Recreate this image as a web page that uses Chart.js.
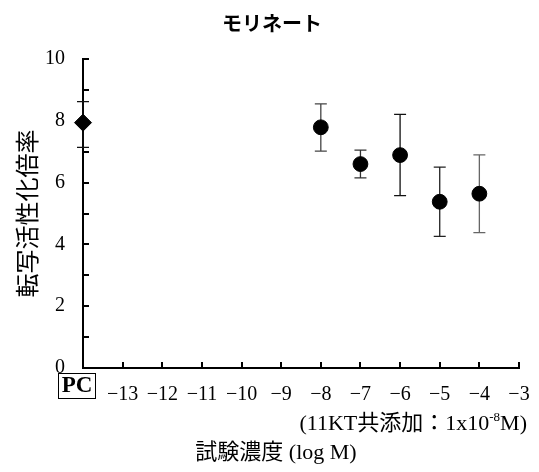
<!DOCTYPE html>
<html lang="ja">
<head>
<meta charset="utf-8">
<title>モリネート</title>
<script src="https://cdn.jsdelivr.net/npm/chart.js@4.4.1/dist/chart.umd.min.js"></script>
<style>
  html, body { margin: 0; padding: 0; background: #fff; }
  #wrap { position: relative; width: 539px; height: 472px; }
</style>
</head>
<body>
<div id="wrap"><canvas id="chart"></canvas></div>
<script>
// positive control, drawn on the left edge of the axis
const pcX = [-14];
const pcMean = [7.94];
const pcLow = [7.14];
const pcHigh = [8.62];

// molinate, log M
const doseLog = [-8, -7, -6, -5, -4];
const foldMean = [7.79, 6.60, 6.89, 5.38, 5.64];
const foldLow = [7.02, 6.15, 5.58, 4.26, 4.38];
const foldHigh = [8.55, 7.05, 8.21, 6.50, 6.90];

const xMin = -14, xMax = -3;
const yMin = 0, yMax = 10;

const serif = "'Liberation Serif', 'Noto Sans CJK JP', serif";
const gothic = "'Noto Sans CJK JP', sans-serif";

// vertical error bars with caps
const errorBars = {
  id: 'errorBars',
  beforeDatasetsDraw(chart) {
    const { ctx, scales: { x, y } } = chart;
    ctx.save();
    ctx.lineWidth = 1.3;
    chart.data.datasets.forEach(ds => {
      ds.data.forEach((p, i) => {
        const px = x.getPixelForValue(p.x);
        const yl = y.getPixelForValue(ds.errLow[i]);
        const yh = y.getPixelForValue(ds.errHigh[i]);
        ctx.strokeStyle = ds.errColor[i];
        ctx.beginPath();
        ctx.moveTo(px, yl); ctx.lineTo(px, yh);
        ctx.moveTo(px - 6, yl); ctx.lineTo(px + 6, yl);
        ctx.moveTo(px - 6, yh); ctx.lineTo(px + 6, yh);
        ctx.stroke();
      });
    });
    ctx.restore();
  }
};

// tick marks pointing into the plot
const innerTicks = {
  id: 'innerTicks',
  beforeDatasetsDraw(chart) {
    const { ctx, scales: { x, y } } = chart;
    ctx.save();
    ctx.strokeStyle = '#000';
    ctx.lineWidth = 2;
    ctx.beginPath();
    x.ticks.forEach(t => {
      if (t.value === xMin) return;
      const px = Math.round(x.getPixelForValue(t.value));
      ctx.moveTo(px, y.bottom);
      ctx.lineTo(px, y.bottom - 6);
    });
    y.ticks.forEach(t => {
      const py = Math.round(y.getPixelForValue(t.value));
      ctx.moveTo(x.left, py);
      ctx.lineTo(x.left + 6, py);
    });
    ctx.stroke();
    ctx.restore();
  }
};

// title, PC box, x title and co-treatment note
const extraText = {
  id: 'extraText',
  afterDraw(chart) {
    const { ctx, scales: { x, y } } = chart;
    ctx.save();

    ctx.fillStyle = '#000';
    ctx.font = 'bold 20px ' + gothic;
    ctx.textAlign = 'center';
    ctx.textBaseline = 'middle';
    ctx.fillText('モリネート', 272, 23);

    // boxed PC label under the y axis
    const pcx = x.getPixelForValue(xMin) - 6;
    ctx.fillStyle = '#fff';
    ctx.fillRect(pcx - 19, y.bottom + 5, 38, 26);
    ctx.strokeStyle = '#000';
    ctx.lineWidth = 1;
    ctx.strokeRect(pcx - 18.5, y.bottom + 5.5, 37, 25);
    ctx.fillStyle = '#000';
    ctx.font = 'bold 23px ' + serif;
    ctx.fillText('PC', pcx, y.bottom + 18.5);

    // note, right aligned, with superscript exponent
    const main = '(11KT共添加：1x10';
    const sup = '-8';
    const tail = 'M)';
    ctx.textAlign = 'left';
    ctx.textBaseline = 'alphabetic';
    ctx.font = '22px ' + serif;
    const wMain = ctx.measureText(main).width;
    const wTail = ctx.measureText(tail).width;
    ctx.font = '13px ' + serif;
    const wSup = ctx.measureText(sup).width;
    let nx = 527 - wMain - wSup - wTail;
    const base = 430;
    ctx.font = '22px ' + serif;
    ctx.fillText(main, nx, base);
    nx += wMain;
    ctx.font = '13px ' + serif;
    ctx.fillText(sup, nx, base - 9);
    nx += wSup;
    ctx.font = '22px ' + serif;
    ctx.fillText(tail, nx, base);

    // x axis title
    ctx.textAlign = 'center';
    ctx.textBaseline = 'middle';
    ctx.fillText('試験濃度 (log M)', 276, 453);
    ctx.restore();
  }
};

new Chart(document.getElementById('chart'), {
  type: 'scatter',
  data: {
    datasets: [
      {
        label: 'PC',
        data: pcX.map((v, i) => ({ x: v, y: pcMean[i] })),
        errLow: pcLow,
        errHigh: pcHigh,
        errColor: ['#111'],
        pointStyle: 'rectRot',
        pointRadius: 8.5,
        backgroundColor: '#000',
        borderColor: '#000',
        clip: false
      },
      {
        label: 'モリネート',
        data: doseLog.map((v, i) => ({ x: v, y: foldMean[i] })),
        errLow: foldLow,
        errHigh: foldHigh,
        errColor: ['#444', '#333', '#111', '#222', '#666'],
        pointStyle: 'circle',
        pointRadius: 7.4,
        backgroundColor: '#000',
        borderColor: '#000',
        clip: false
      }
    ]
  },
  options: {
    responsive: true,
    maintainAspectRatio: false,
    animation: false,
    layout: { padding: { left: 0, right: 20, top: 59, bottom: 0 } },
    plugins: {
      legend: { display: false },
      tooltip: { enabled: false },
      title: { display: false }
    },
    scales: {
      x: {
        type: 'linear',
        min: xMin,
        max: xMax,
        afterFit(s) { s.height = 104; },
        border: { color: '#000', width: 2 },
        grid: { display: false },
        ticks: {
          stepSize: 1,
          autoSkip: false,
          maxRotation: 0,
          padding: 7,
          color: '#000',
          font: { family: serif, size: 20 },
          callback: v => v === xMin ? '' : '\u2212' + Math.abs(v)
        }
      },
      y: {
        min: yMin,
        max: yMax,
        afterFit(s) { s.width = 83; },
        border: { color: '#000', width: 2 },
        grid: { display: false },
        ticks: {
          stepSize: 1,
          autoSkip: false,
          padding: 10,
          color: '#000',
          font: { family: serif, size: 20 },
          callback: v => v % 2 === 0 ? v : ''
        },
        title: {
          display: true,
          text: '転写活性化倍率',
          color: '#000',
          font: { family: gothic, size: 24 },
          padding: { top: 12, bottom: 0 }
        }
      }
    }
  },
  plugins: [innerTicks, errorBars, extraText]
});
</script>
</body>
</html>
